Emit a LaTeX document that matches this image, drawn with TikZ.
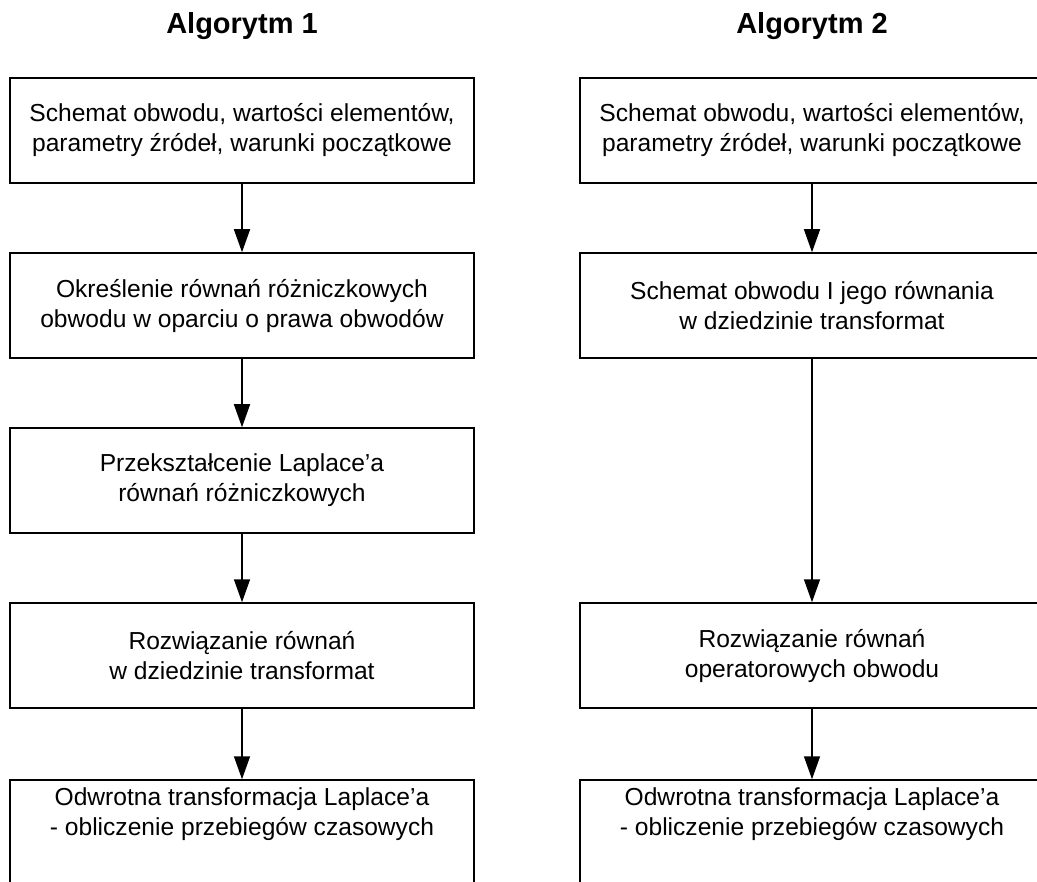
\documentclass[tikz,border=0pt]{standalone}
\usepackage{fontspec}
\setmainfont{Liberation Sans}
\usetikzlibrary{arrows.meta}
\begin{document}
\begin{tikzpicture}[x=1pt,y=-1pt,
  boxst/.style={draw, line width=1.5pt, minimum width=464pt, minimum height=105pt, inner sep=0pt, align=center, font=\fontsize{24.6}{30}\selectfont},
  txt/.style={inner sep=0pt, align=center, font=\fontsize{24.6}{30}\selectfont},
  ttl/.style={inner sep=0pt, font=\fontsize{29}{34}\selectfont\bfseries},
  arr/.style={line width=1.5pt, -{Triangle[length=23pt,width=16pt]}}]
\useasboundingbox (0,0) rectangle (1037,882);
\clip (0,0) rectangle (1037,882);
% titles
\node[ttl] (T1) at (242,26) {Algorytm 1};
\node[ttl] (T2) at (812,26) {Algorytm 2};
% left column
\node[boxst] (L1) at (242,130.5) {Schemat obwodu, wartości elementów,\\parametry źródeł, warunki początkowe};
\node[boxst] (L2) at (242,305.5) {Określenie równań różniczkowych\\obwodu w oparciu o prawa obwodów};
\node[boxst] (L3) at (242,480.5) {Przekształcenie Laplace’a\\równań różniczkowych};
\node[boxst] (L4) at (242,655.5) {Rozwiązanie równań\\w dziedzinie transformat};
\node[boxst, minimum height=110pt] (L5) at (242,835) {};
\node[txt] (L5t) at (242,814) {Odwrotna transformacja Laplace’a\\- obliczenie przebiegów czasowych};
% right column
\node[boxst] (R1) at (812,130.5) {Schemat obwodu, wartości elementów,\\parametry źródeł, warunki początkowe};
\node[boxst] (R2) at (812,305.5) {Schemat obwodu I jego równania\\w dziedzinie transformat};
\node[boxst] (R3) at (812,655.5) {Rozwiązanie równań\\operatorowych obwodu};
\node[boxst, minimum height=110pt] (R4) at (812,835) {};
\node[txt] (R4t) at (812,814) {Odwrotna transformacja Laplace’a\\- obliczenie przebiegów czasowych};
% arrows
\draw[arr] (L1) -- (L2);
\draw[arr] (L2) -- (L3);
\draw[arr] (L3) -- (L4);
\draw[arr] (L4) -- (L5);
\draw[arr] (R1) -- (R2);
\draw[arr] (R2) -- (R3);
\draw[arr] (R3) -- (R4);
\end{tikzpicture}
\end{document}
